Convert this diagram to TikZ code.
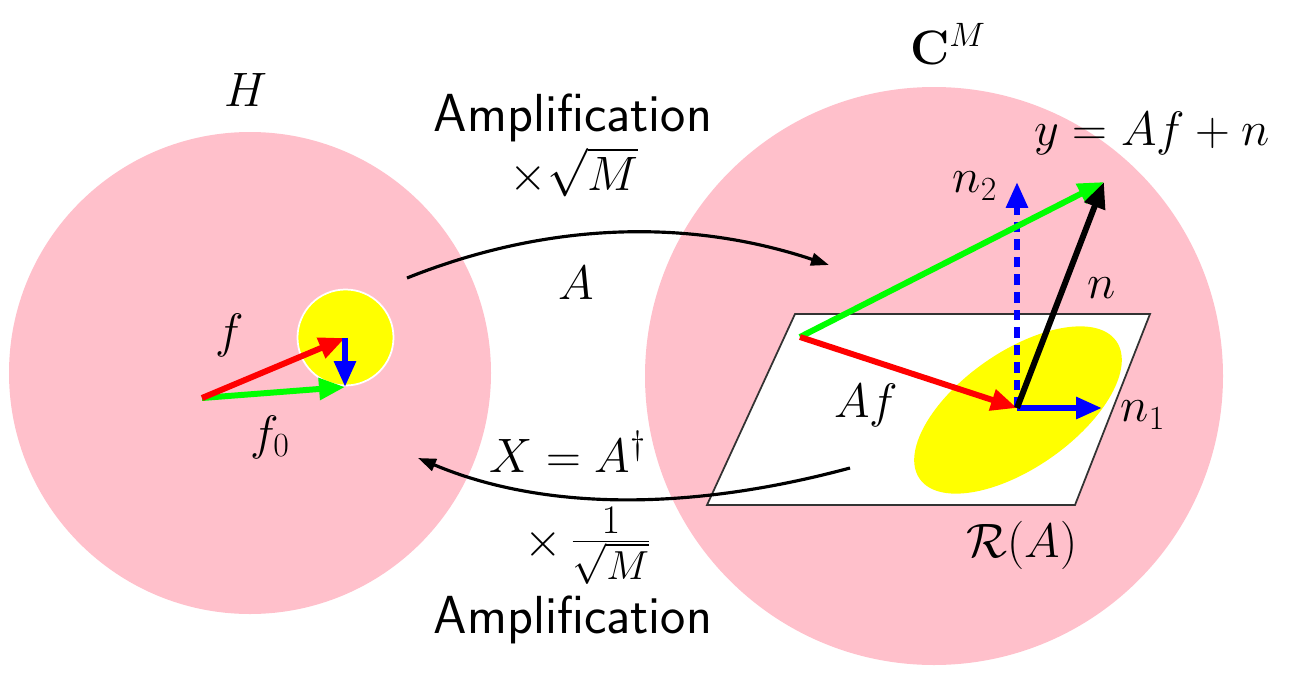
\RequirePackage{fix-cm}
\documentclass[tikz,border=0pt]{standalone}
\usetikzlibrary{arrows.meta}
\definecolor{pinkbg}{RGB}{255,192,203}
\definecolor{vgreen}{RGB}{0,255,0}
\definecolor{vyellow}{RGB}{255,255,0}
\begin{document}
\begin{tikzpicture}[x=0.02cm,y=-0.02cm,
  lbl/.style={font=\fontsize{27.5}{32}\selectfont, inner sep=0pt},
  amp/.style={font=\fontsize{30.5}{36}\selectfont\sffamily, inner sep=0pt},
  vecarrow/.style={line width=3.4pt, -{Triangle[length=0.52cm,width=0.42cm]}},
  maparrow/.style={line width=1.8pt, -{Triangle[length=0.36cm,width=0.25cm]}}]
\useasboundingbox (0,0) rectangle (1316,673);
% spaces
\fill[pinkbg] (250,373) circle (241);
\fill[pinkbg] (934,376) circle (289);
% range plane
\draw[fill=white, line width=1pt, draw=black!80] (795,314) -- (1150,314) -- (1075,505) -- (707,505) -- cycle;
\fill[vyellow, rotate around={35:(1018,410)}] (1018,410) ellipse (120 and 58);
\filldraw[fill=vyellow, draw=white, line width=1pt] (345.5,337.5) circle (48);
% coordinates
\coordinate (o) at (202,398);
\coordinate (fe) at (345,338);
\coordinate (f0e) at (345,387);
\coordinate (p) at (800,337);
\coordinate (q) at (1017,408);
\coordinate (ye) at (1104,182);
\coordinate (n1e) at (1102,408);
\coordinate (n2e) at (1017,182);
% left vectors
\draw[vecarrow, vgreen] (o) -- (f0e);
\draw[vecarrow, red] (o) -- (fe);
\draw[vecarrow, blue] (fe) -- (f0e);
% right vectors
\draw[vecarrow, blue, dash pattern=on 6pt off 4pt] (q) -- (n2e);
\draw[vecarrow, vgreen] (p) -- (ye);
\draw[vecarrow, red] (p) -- (q);
\draw[vecarrow, blue] (q) -- (n1e);
\draw[vecarrow, black] (q) -- (ye);
% maps
\coordinate (a1) at (407,278);
\coordinate (a2) at (829,265);
\coordinate (b1) at (850,468);
\coordinate (b2) at (418,458);
\draw[maparrow] (a1) .. controls (547,222) and (688,218) .. (a2);
\draw[maparrow] (b1) .. controls (683,513) and (539,509) .. (b2);
% labels
\node[lbl] (H) at (246,90) {$H$};
\node[lbl] (CM) at (948,44) {$\mathbf{C}^M$};
\node[amp] (amp1) at (573,118) {Amplification};
\node[lbl] (sq) at (574,172) {$\times\sqrt{M}$};
\node[lbl] (A) at (576,283) {$A$};
\node[lbl] (f) at (230,335) {$f$};
\node[lbl] (f0) at (270,437) {$f_0$};
\node[lbl] (X) at (568,452) {$X=A^{\dagger}$};
\node[lbl] (isq) at (588,546) {$\times$\,{\fontsize{33}{38}\selectfont$\frac{1}{\sqrt{M}}$}};
\node[amp] (amp2) at (573,620) {Amplification};
\node[lbl] (Af) at (866,405) {$Af$};
\node[lbl] (n1) at (1143,415) {$n_1$};
\node[lbl] (n2) at (975,186) {$n_2$};
\node[lbl] (n) at (1102,288) {$n$};
\node[lbl] (y) at (1152,133) {$y=Af+n$};
\node[lbl] (R) at (1022,545) {$\mathcal{R}(A)$};
\end{tikzpicture}
\end{document}
